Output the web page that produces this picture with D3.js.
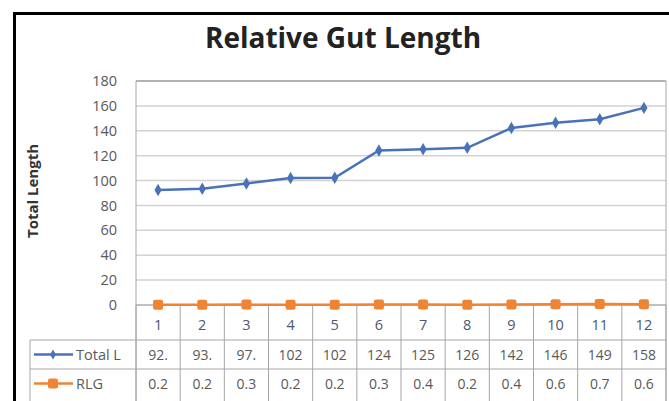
<!DOCTYPE html>
<html>
<head>
<meta charset="utf-8">
<script src="https://cdn.jsdelivr.net/npm/d3@7"></script>
<style>
  body { margin: 0; background: #fff; }
  text { font-family: "Open Sans", "Liberation Sans", sans-serif; }
</style>
</head>
<body>
<div id="chart"></div>
<script>
var categories = ["1", "2", "3", "4", "5", "6", "7", "8", "9", "10", "11", "12"];
var totalLength = [92.4, 93.4, 97.6, 102.1, 102.3, 124.2, 125.1, 126.3, 142.2, 146.5, 149.2, 158.4];
var rlg = [0.24, 0.22, 0.31, 0.23, 0.25, 0.33, 0.42, 0.24, 0.41, 0.62, 0.71, 0.64];
var yTicks = [0, 20, 40, 60, 80, 100, 120, 140, 160, 180];
var seriesNames = ["Total L", "RLG"];

var W = 669, H = 401;
var plotLeft = 136, plotRight = 666, plotTop = 81, plotBottom = 305;
var tableLeft = 30, rowY = [305, 340, 369, 398];

var svg = d3.select("#chart").append("svg")
    .attr("width", W).attr("height", H);

// outer frame
svg.append("rect").attr("x", 14.5).attr("y", 13.5)
    .attr("width", W + 10).attr("height", H + 10)
    .attr("fill", "none").attr("stroke", "#000").attr("stroke-width", 3);

svg.append("text").attr("x", 343).attr("y", 48)
    .attr("text-anchor", "middle")
    .style("font-size", "28px").style("font-weight", "bold")
    .attr("fill", "#222")
    .text("Relative Gut Length");

var x = d3.scaleBand().domain(categories).range([plotLeft, plotRight]);
var y = d3.scaleLinear().domain([0, 180]).range([plotBottom, plotTop]);

// gridlines
svg.append("g").selectAll("line").data(yTicks).enter().append("line")
    .attr("x1", plotLeft).attr("x2", plotRight)
    .attr("y1", function(d) { return y(d); }).attr("y2", function(d) { return y(d); })
    .attr("stroke", function(d) { return d === 180 ? "#9a9a9a" : "#d2d2d2"; })
    .attr("stroke-width", 1.5);

// plot border sides
svg.append("line").attr("x1", plotLeft).attr("x2", plotLeft).attr("y1", plotTop).attr("y2", H)
    .attr("stroke", "#a6a6a6");
svg.append("line").attr("x1", plotRight).attr("x2", plotRight).attr("y1", plotTop).attr("y2", H)
    .attr("stroke", "#a6a6a6");

// y axis
var yAxis = d3.axisLeft(y).tickValues(yTicks).tickSize(0).tickPadding(19);
var gy = svg.append("g").attr("transform", "translate(" + plotLeft + ",0)").call(yAxis);
gy.select(".domain").remove();
gy.selectAll("text").style("font-size", "14.5px").attr("fill", "#595959")
    .style("font-family", "'Open Sans', sans-serif");

svg.append("text")
    .attr("transform", "translate(38," + 191 + ") rotate(-90)")
    .attr("text-anchor", "middle")
    .style("font-size", "15px").style("font-weight", "bold").attr("fill", "#333")
    .text("Total Length");

// data table grid
var tg = svg.append("g");
tg.selectAll("line.v").data(d3.range(categories.length + 1)).enter().append("line")
    .attr("x1", function(i) { return plotLeft + i * x.step(); })
    .attr("x2", function(i) { return plotLeft + i * x.step(); })
    .attr("y1", rowY[0]).attr("y2", H)
    .attr("stroke", "#a6a6a6");
tg.selectAll("line.h").data(rowY.slice(1, 3)).enter().append("line")
    .attr("x1", tableLeft).attr("x2", plotRight)
    .attr("y1", function(d) { return d; }).attr("y2", function(d) { return d; })
    .attr("stroke", "#a6a6a6");
tg.append("line").attr("x1", tableLeft).attr("x2", tableLeft)
    .attr("y1", rowY[1]).attr("y2", H).attr("stroke", "#a6a6a6");
svg.append("line").attr("x1", plotLeft).attr("x2", plotRight).attr("y1", plotBottom).attr("y2", plotBottom)
    .attr("stroke", "#a6a6a6");

// category labels
svg.append("g").selectAll("text").data(categories).enter().append("text")
    .attr("x", function(d) { return x(d) + x.bandwidth() / 2; })
    .attr("y", 330).attr("text-anchor", "middle")
    .style("font-size", "14.5px").attr("fill", "#4d5870")
    .text(function(d) { return d; });

var colors = ["#4a72b8", "#ee8434"];
var series = [totalLength, rlg];

// table values and legend keys
series.forEach(function(vals, s) {
    var ly = (rowY[s + 1] + rowY[s + 2]) / 2;
    svg.append("g").selectAll("text").data(vals).enter().append("text")
        .attr("x", function(d, i) { return x(categories[i]) + x.bandwidth() / 2; })
        .attr("y", ly + 5)
        .attr("text-anchor", "middle")
        .style("font-size", "14px").attr("fill", "#595959")
        .text(function(d) { return String(d).slice(0, 3); });

    svg.append("line").attr("x1", 34).attr("x2", 73).attr("y1", ly).attr("y2", ly)
        .attr("stroke", colors[s]).attr("stroke-width", 2.5);
    if (s === 0) {
        svg.append("path").attr("d", d3.symbol(d3.symbolDiamond, 30)())
            .attr("transform", "translate(53," + ly + ")").attr("fill", colors[s]);
    } else {
        svg.append("rect").attr("x", 48).attr("y", ly - 5).attr("width", 10).attr("height", 10)
            .attr("rx", 2).attr("fill", colors[s]);
    }
    svg.append("text").attr("x", 76).attr("y", ly + 5)
        .style("font-size", "14.5px").attr("fill", "#595959")
        .text(seriesNames[s]);
});

// lines
var line = d3.line()
    .x(function(d, i) { return x(categories[i]) + x.bandwidth() / 2; })
    .y(function(d) { return y(d); });

series.forEach(function(vals, s) {
    svg.append("path").datum(vals).attr("d", line)
        .attr("fill", "none").attr("stroke", colors[s]).attr("stroke-width", 2.5);
});

svg.append("g").selectAll("path").data(totalLength).enter().append("path")
    .attr("d", d3.symbol(d3.symbolDiamond, 45)())
    .attr("transform", function(d, i) {
        return "translate(" + (x(categories[i]) + x.bandwidth() / 2) + "," + y(d) + ")";
    })
    .attr("fill", colors[0]);

svg.append("g").selectAll("rect").data(rlg).enter().append("rect")
    .attr("x", function(d, i) { return x(categories[i]) + x.bandwidth() / 2 - 5; })
    .attr("y", function(d) { return y(d) - 5; })
    .attr("width", 10).attr("height", 10).attr("rx", 2)
    .attr("fill", colors[1]);
</script>
</body>
</html>
